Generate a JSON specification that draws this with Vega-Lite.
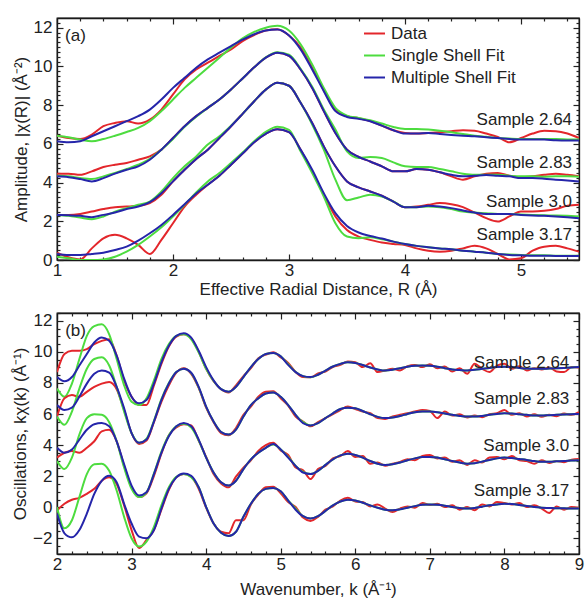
{
"$schema": "https://vega.github.io/schema/vega-lite/v6.json",
"background": "white",
"padding": {"left": 10, "top": 16, "right": 4, "bottom": 0},
"spacing": 13,
"config": {
 "font": "Liberation Sans",
 "view": {"stroke": "#1a1a1a", "strokeWidth": 1.3},
 "axis": {"labelFont": "Liberation Sans", "labelFontSize": 17, "labelColor": "#222", "titleFont": "Liberation Sans", "titleFontSize": 17, "titleFontWeight": "normal", "titleColor": "#222", "tickColor": "#222", "domainColor": "#1a1a1a", "domainWidth": 1.3, "tickWidth": 1.2, "grid": false, "labelOverlap": false, "labelFlush": false, "labelBound": false, "titlePadding": 3, "labelPadding": 8},
 "axisLeft": {"labelPadding": 11},
 "legend": {"labelFont": "Liberation Sans", "labelFontSize": 17, "labelColor": "#222"},
 "text": {"font": "Liberation Sans", "fontSize": 17, "fill": "#222"}
},
"datasets": {
"a": [
{"x":1.0,"s":"2.64","d":6.42,"g":6.42,"b":6.13},
{"x":1.1,"s":"2.64","d":6.30,"g":6.34,"b":6.08},
{"x":1.2,"s":"2.64","d":6.25,"g":6.22,"b":6.13},
{"x":1.3,"s":"2.64","d":6.48,"g":6.13,"b":6.39},
{"x":1.4,"s":"2.64","d":6.91,"g":6.25,"b":6.65},
{"x":1.5,"s":"2.64","d":7.08,"g":6.42,"b":6.91},
{"x":1.6,"s":"2.64","d":7.17,"g":6.61,"b":7.17},
{"x":1.7,"s":"2.64","d":7.05,"g":6.82,"b":7.43},
{"x":1.8,"s":"2.64","d":7.25,"g":7.17,"b":7.77},
{"x":1.9,"s":"2.64","d":7.77,"g":7.69,"b":8.29},
{"x":2.0,"s":"2.64","d":8.55,"g":8.29,"b":8.89},
{"x":2.1,"s":"2.64","d":9.33,"g":8.89,"b":9.41},
{"x":2.2,"s":"2.64","d":9.84,"g":9.41,"b":9.93},
{"x":2.3,"s":"2.64","d":10.19,"g":9.93,"b":10.36},
{"x":2.4,"s":"2.64","d":10.54,"g":10.45,"b":10.71},
{"x":2.5,"s":"2.64","d":10.88,"g":10.97,"b":11.05},
{"x":2.6,"s":"2.64","d":11.31,"g":11.45,"b":11.38},
{"x":2.7,"s":"2.64","d":11.62,"g":11.78,"b":11.66},
{"x":2.8,"s":"2.64","d":11.85,"g":12.00,"b":11.85},
{"x":2.9,"s":"2.64","d":11.92,"g":12.10,"b":11.90},
{"x":3.0,"s":"2.64","d":11.60,"g":11.85,"b":11.60},
{"x":3.1,"s":"2.64","d":10.97,"g":11.14,"b":10.88},
{"x":3.2,"s":"2.64","d":9.93,"g":10.10,"b":9.84},
{"x":3.3,"s":"2.64","d":8.77,"g":8.89,"b":8.72},
{"x":3.4,"s":"2.64","d":7.74,"g":7.86,"b":7.69},
{"x":3.5,"s":"2.64","d":7.43,"g":7.46,"b":7.39},
{"x":3.6,"s":"2.64","d":7.32,"g":7.34,"b":7.29},
{"x":3.7,"s":"2.64","d":7.18,"g":7.22,"b":7.17},
{"x":3.8,"s":"2.64","d":6.94,"g":7.05,"b":6.94},
{"x":3.9,"s":"2.64","d":6.70,"g":6.87,"b":6.70},
{"x":4.0,"s":"2.64","d":6.56,"g":6.77,"b":6.53},
{"x":4.1,"s":"2.64","d":6.53,"g":6.77,"b":6.53},
{"x":4.2,"s":"2.64","d":6.56,"g":6.74,"b":6.56},
{"x":4.3,"s":"2.64","d":6.60,"g":6.68,"b":6.51},
{"x":4.4,"s":"2.64","d":6.65,"g":6.60,"b":6.46},
{"x":4.5,"s":"2.64","d":6.70,"g":6.51,"b":6.42},
{"x":4.6,"s":"2.64","d":6.67,"g":6.42,"b":6.39},
{"x":4.7,"s":"2.64","d":6.53,"g":6.36,"b":6.34},
{"x":4.8,"s":"2.64","d":6.36,"g":6.30,"b":6.30},
{"x":4.9,"s":"2.64","d":6.08,"g":6.27,"b":6.25},
{"x":5.0,"s":"2.64","d":6.30,"g":6.25,"b":6.22},
{"x":5.1,"s":"2.64","d":6.53,"g":6.25,"b":6.22},
{"x":5.2,"s":"2.64","d":6.67,"g":6.25,"b":6.22},
{"x":5.3,"s":"2.64","d":6.65,"g":6.25,"b":6.18},
{"x":5.4,"s":"2.64","d":6.53,"g":6.23,"b":6.17},
{"x":5.5,"s":"2.64","d":6.30,"g":6.22,"b":6.17},
{"x":1.0,"s":"2.83","d":4.46,"g":4.35,"b":4.32},
{"x":1.1,"s":"2.83","d":4.46,"g":4.32,"b":4.28},
{"x":1.2,"s":"2.83","d":4.40,"g":4.23,"b":4.18},
{"x":1.3,"s":"2.83","d":4.58,"g":4.18,"b":4.06},
{"x":1.4,"s":"2.83","d":4.80,"g":4.32,"b":4.23},
{"x":1.5,"s":"2.83","d":4.92,"g":4.49,"b":4.46},
{"x":1.6,"s":"2.83","d":5.01,"g":4.70,"b":4.66},
{"x":1.7,"s":"2.83","d":5.18,"g":4.92,"b":4.84},
{"x":1.8,"s":"2.83","d":5.35,"g":5.22,"b":5.18},
{"x":1.9,"s":"2.83","d":5.70,"g":5.70,"b":5.70},
{"x":2.0,"s":"2.83","d":6.30,"g":6.25,"b":6.30},
{"x":2.1,"s":"2.83","d":6.91,"g":6.88,"b":6.91},
{"x":2.2,"s":"2.83","d":7.43,"g":7.40,"b":7.43},
{"x":2.3,"s":"2.83","d":7.86,"g":7.86,"b":7.86},
{"x":2.4,"s":"2.83","d":8.29,"g":8.29,"b":8.29},
{"x":2.5,"s":"2.83","d":8.81,"g":8.81,"b":8.81},
{"x":2.6,"s":"2.83","d":9.38,"g":9.38,"b":9.38},
{"x":2.7,"s":"2.83","d":9.95,"g":9.95,"b":9.95},
{"x":2.8,"s":"2.83","d":10.45,"g":10.47,"b":10.45},
{"x":2.9,"s":"2.83","d":10.70,"g":10.73,"b":10.70},
{"x":3.0,"s":"2.83","d":10.55,"g":10.60,"b":10.55},
{"x":3.1,"s":"2.83","d":9.84,"g":9.88,"b":9.84},
{"x":3.2,"s":"2.83","d":8.89,"g":8.95,"b":8.89},
{"x":3.3,"s":"2.83","d":7.69,"g":7.77,"b":7.69},
{"x":3.4,"s":"2.83","d":6.56,"g":6.74,"b":6.56},
{"x":3.5,"s":"2.83","d":5.70,"g":5.61,"b":5.70},
{"x":3.6,"s":"2.83","d":5.32,"g":5.27,"b":5.32},
{"x":3.7,"s":"2.83","d":5.09,"g":5.32,"b":5.09},
{"x":3.8,"s":"2.83","d":4.84,"g":5.27,"b":4.84},
{"x":3.9,"s":"2.83","d":4.58,"g":5.04,"b":4.58},
{"x":4.0,"s":"2.83","d":4.58,"g":4.84,"b":4.58},
{"x":4.1,"s":"2.83","d":4.70,"g":4.80,"b":4.70},
{"x":4.2,"s":"2.83","d":4.66,"g":4.80,"b":4.66},
{"x":4.3,"s":"2.83","d":4.53,"g":4.70,"b":4.53},
{"x":4.4,"s":"2.83","d":4.32,"g":4.58,"b":4.40},
{"x":4.5,"s":"2.83","d":4.15,"g":4.46,"b":4.32},
{"x":4.6,"s":"2.83","d":4.32,"g":4.40,"b":4.35},
{"x":4.7,"s":"2.83","d":4.46,"g":4.40,"b":4.39},
{"x":4.8,"s":"2.83","d":4.49,"g":4.40,"b":4.35},
{"x":4.9,"s":"2.83","d":4.35,"g":4.35,"b":4.32},
{"x":5.0,"s":"2.83","d":4.27,"g":4.32,"b":4.23},
{"x":5.1,"s":"2.83","d":4.32,"g":4.32,"b":4.23},
{"x":5.2,"s":"2.83","d":4.40,"g":4.30,"b":4.20},
{"x":5.3,"s":"2.83","d":4.46,"g":4.32,"b":4.15},
{"x":5.4,"s":"2.83","d":4.40,"g":4.32,"b":4.11},
{"x":5.5,"s":"2.83","d":4.32,"g":4.30,"b":4.06},
{"x":1.0,"s":"3.0","d":2.33,"g":2.33,"b":2.33},
{"x":1.1,"s":"3.0","d":2.33,"g":2.28,"b":2.31},
{"x":1.2,"s":"3.0","d":2.38,"g":2.19,"b":2.28},
{"x":1.3,"s":"3.0","d":2.50,"g":2.11,"b":2.21},
{"x":1.4,"s":"3.0","d":2.63,"g":2.25,"b":2.33},
{"x":1.5,"s":"3.0","d":2.73,"g":2.50,"b":2.45},
{"x":1.6,"s":"3.0","d":2.76,"g":2.68,"b":2.63},
{"x":1.7,"s":"3.0","d":2.80,"g":2.85,"b":2.76},
{"x":1.8,"s":"3.0","d":2.94,"g":3.02,"b":2.99},
{"x":1.9,"s":"3.0","d":3.37,"g":3.54,"b":3.45},
{"x":2.0,"s":"3.0","d":4.06,"g":4.23,"b":4.06},
{"x":2.1,"s":"3.0","d":4.66,"g":4.84,"b":4.66},
{"x":2.2,"s":"3.0","d":5.22,"g":5.35,"b":5.22},
{"x":2.3,"s":"3.0","d":5.70,"g":5.96,"b":5.70},
{"x":2.4,"s":"3.0","d":6.30,"g":6.39,"b":6.30},
{"x":2.5,"s":"3.0","d":6.91,"g":6.94,"b":6.91},
{"x":2.6,"s":"3.0","d":7.55,"g":7.55,"b":7.55},
{"x":2.7,"s":"3.0","d":8.20,"g":8.20,"b":8.20},
{"x":2.8,"s":"3.0","d":8.80,"g":8.80,"b":8.80},
{"x":2.9,"s":"3.0","d":9.15,"g":9.15,"b":9.15},
{"x":3.0,"s":"3.0","d":9.00,"g":9.00,"b":9.00},
{"x":3.1,"s":"3.0","d":8.12,"g":8.12,"b":8.12},
{"x":3.2,"s":"3.0","d":7.08,"g":7.00,"b":7.08},
{"x":3.3,"s":"3.0","d":5.87,"g":5.70,"b":5.87},
{"x":3.4,"s":"3.0","d":4.84,"g":4.15,"b":4.84},
{"x":3.5,"s":"3.0","d":4.06,"g":3.09,"b":4.06},
{"x":3.6,"s":"3.0","d":3.75,"g":3.23,"b":3.75},
{"x":3.7,"s":"3.0","d":3.54,"g":3.37,"b":3.54},
{"x":3.8,"s":"3.0","d":3.32,"g":3.28,"b":3.32},
{"x":3.9,"s":"3.0","d":3.02,"g":3.02,"b":3.02},
{"x":4.0,"s":"3.0","d":2.73,"g":2.73,"b":2.73},
{"x":4.1,"s":"3.0","d":2.76,"g":2.73,"b":2.73},
{"x":4.2,"s":"3.0","d":2.85,"g":2.76,"b":2.80},
{"x":4.3,"s":"3.0","d":2.94,"g":2.73,"b":2.76},
{"x":4.4,"s":"3.0","d":2.88,"g":2.63,"b":2.68},
{"x":4.5,"s":"3.0","d":2.73,"g":2.50,"b":2.56},
{"x":4.6,"s":"3.0","d":2.45,"g":2.45,"b":2.45},
{"x":4.7,"s":"3.0","d":2.16,"g":2.42,"b":2.38},
{"x":4.8,"s":"3.0","d":1.99,"g":2.38,"b":2.38},
{"x":4.9,"s":"3.0","d":2.25,"g":2.37,"b":2.37},
{"x":5.0,"s":"3.0","d":2.50,"g":2.35,"b":2.33},
{"x":5.1,"s":"3.0","d":2.50,"g":2.33,"b":2.30},
{"x":5.2,"s":"3.0","d":2.54,"g":2.31,"b":2.28},
{"x":5.3,"s":"3.0","d":2.63,"g":2.30,"b":2.25},
{"x":5.4,"s":"3.0","d":2.80,"g":2.28,"b":2.21},
{"x":5.5,"s":"3.0","d":2.85,"g":2.25,"b":2.16},
{"x":1.0,"s":"3.17","d":0.38,"g":0.17,"b":0.31},
{"x":1.1,"s":"3.17","d":0.14,"g":0.09,"b":0.26},
{"x":1.2,"s":"3.17","d":0.03,"g":0.0,"b":0.26},
{"x":1.3,"s":"3.17","d":0.60,"g":0.0,"b":0.31},
{"x":1.4,"s":"3.17","d":1.12,"g":0.03,"b":0.38},
{"x":1.5,"s":"3.17","d":1.30,"g":0.17,"b":0.52},
{"x":1.6,"s":"3.17","d":1.12,"g":0.43,"b":0.69},
{"x":1.7,"s":"3.17","d":0.78,"g":0.78,"b":1.00},
{"x":1.8,"s":"3.17","d":0.31,"g":1.21,"b":1.38},
{"x":1.9,"s":"3.17","d":1.04,"g":1.69,"b":1.81},
{"x":2.0,"s":"3.17","d":1.90,"g":2.25,"b":2.33},
{"x":2.1,"s":"3.17","d":2.76,"g":2.85,"b":2.88},
{"x":2.2,"s":"3.17","d":3.37,"g":3.49,"b":3.44},
{"x":2.3,"s":"3.17","d":3.89,"g":4.06,"b":3.89},
{"x":2.4,"s":"3.17","d":4.35,"g":4.49,"b":4.35},
{"x":2.5,"s":"3.17","d":4.92,"g":5.01,"b":4.92},
{"x":2.6,"s":"3.17","d":5.50,"g":5.55,"b":5.50},
{"x":2.7,"s":"3.17","d":6.08,"g":6.13,"b":6.08},
{"x":2.8,"s":"3.17","d":6.52,"g":6.62,"b":6.52},
{"x":2.9,"s":"3.17","d":6.75,"g":6.88,"b":6.75},
{"x":3.0,"s":"3.17","d":6.60,"g":6.72,"b":6.60},
{"x":3.1,"s":"3.17","d":5.70,"g":5.61,"b":5.70},
{"x":3.2,"s":"3.17","d":4.58,"g":4.49,"b":4.66},
{"x":3.3,"s":"3.17","d":3.37,"g":3.28,"b":3.45},
{"x":3.4,"s":"3.17","d":2.25,"g":1.90,"b":2.42},
{"x":3.5,"s":"3.17","d":1.55,"g":1.21,"b":1.76},
{"x":3.6,"s":"3.17","d":1.21,"g":1.12,"b":1.42},
{"x":3.7,"s":"3.17","d":1.04,"g":1.17,"b":1.24},
{"x":3.8,"s":"3.17","d":0.90,"g":1.07,"b":1.11},
{"x":3.9,"s":"3.17","d":0.83,"g":0.95,"b":0.95},
{"x":4.0,"s":"3.17","d":0.78,"g":0.83,"b":0.83},
{"x":4.1,"s":"3.17","d":0.60,"g":0.73,"b":0.73},
{"x":4.2,"s":"3.17","d":0.48,"g":0.66,"b":0.66},
{"x":4.3,"s":"3.17","d":0.43,"g":0.60,"b":0.60},
{"x":4.4,"s":"3.17","d":0.48,"g":0.55,"b":0.55},
{"x":4.5,"s":"3.17","d":0.60,"g":0.48,"b":0.48},
{"x":4.6,"s":"3.17","d":0.73,"g":0.43,"b":0.43},
{"x":4.7,"s":"3.17","d":0.60,"g":0.38,"b":0.38},
{"x":4.8,"s":"3.17","d":0.31,"g":0.31,"b":0.31},
{"x":4.9,"s":"3.17","d":0.03,"g":0.28,"b":0.26},
{"x":5.0,"s":"3.17","d":0.09,"g":0.26,"b":0.24},
{"x":5.1,"s":"3.17","d":0.48,"g":0.24,"b":0.22},
{"x":5.2,"s":"3.17","d":0.69,"g":0.24,"b":0.22},
{"x":5.3,"s":"3.17","d":0.73,"g":0.22,"b":0.21},
{"x":5.4,"s":"3.17","d":0.60,"g":0.22,"b":0.21},
{"x":5.5,"s":"3.17","d":0.43,"g":0.22,"b":0.21}
],
"b": [
{"x":2.0,"s":"2.64","d":8.70,"g":7.64,"b":8.38},
{"x":2.1,"s":"2.64","d":9.86,"g":7.11,"b":8.11},
{"x":2.2,"s":"2.64","d":10.07,"g":7.96,"b":8.38},
{"x":2.3,"s":"2.64","d":10.07,"g":9.54,"b":9.12},
{"x":2.4,"s":"2.64","d":10.18,"g":11.03,"b":9.86},
{"x":2.5,"s":"2.64","d":10.50,"g":11.66,"b":10.60},
{"x":2.6,"s":"2.64","d":10.71,"g":11.77,"b":10.92},
{"x":2.7,"s":"2.64","d":10.81,"g":11.13,"b":10.71},
{"x":2.8,"s":"2.64","d":9.76,"g":9.54,"b":9.76},
{"x":2.9,"s":"2.64","d":8.17,"g":7.85,"b":8.28},
{"x":3.0,"s":"2.64","d":7.11,"g":6.79,"b":7.11},
{"x":3.1,"s":"2.64","d":6.58,"g":6.58,"b":6.69},
{"x":3.2,"s":"2.64","d":6.58,"g":7.01,"b":6.90},
{"x":3.3,"s":"2.64","d":7.85,"g":8.17,"b":7.96},
{"x":3.4,"s":"2.64","d":9.23,"g":9.54,"b":9.33},
{"x":3.5,"s":"2.64","d":10.35,"g":10.50,"b":10.39},
{"x":3.6,"s":"2.64","d":10.98,"g":11.03,"b":11.03},
{"x":3.7,"s":"2.64","d":11.13,"g":11.13,"b":11.20},
{"x":3.8,"s":"2.64","d":10.86,"g":10.81,"b":10.92},
{"x":3.9,"s":"2.64","d":10.01,"g":9.97,"b":10.07},
{"x":4.0,"s":"2.64","d":8.91,"g":8.91,"b":9.02},
{"x":4.1,"s":"2.64","d":8.11,"g":8.13,"b":8.17},
{"x":4.2,"s":"2.64","d":7.60,"g":7.60,"b":7.60},
{"x":4.3,"s":"2.64","d":7.39,"g":7.43,"b":7.43},
{"x":4.4,"s":"2.64","d":7.85,"g":7.75,"b":7.75},
{"x":4.5,"s":"2.64","d":8.44,"g":8.38,"b":8.38},
{"x":4.6,"s":"2.64","d":8.95,"g":9.02,"b":9.02},
{"x":4.7,"s":"2.64","d":9.59,"g":9.54,"b":9.54},
{"x":4.8,"s":"2.64","d":9.82,"g":9.86,"b":9.86},
{"x":4.9,"s":"2.64","d":9.97,"g":9.93,"b":9.93},
{"x":5.0,"s":"2.64","d":9.65,"g":9.71,"b":9.71},
{"x":5.1,"s":"2.64","d":9.29,"g":9.20,"b":9.16},
{"x":5.2,"s":"2.64","d":8.70,"g":8.70,"b":8.70},
{"x":5.3,"s":"2.64","d":8.38,"g":8.44,"b":8.44},
{"x":5.4,"s":"2.64","d":8.36,"g":8.36,"b":8.38},
{"x":5.5,"s":"2.64","d":8.61,"g":8.53,"b":8.53},
{"x":5.6,"s":"2.64","d":8.74,"g":8.80,"b":8.80},
{"x":5.7,"s":"2.64","d":9.02,"g":9.06,"b":9.06},
{"x":5.8,"s":"2.64","d":9.16,"g":9.23,"b":9.23},
{"x":5.9,"s":"2.64","d":9.38,"g":9.33,"b":9.33},
{"x":6.0,"s":"2.64","d":9.33,"g":9.29,"b":9.29},
{"x":6.1,"s":"2.64","d":9.02,"g":9.16,"b":9.16},
{"x":6.2,"s":"2.64","d":9.27,"g":8.99,"b":8.99},
{"x":6.3,"s":"2.64","d":8.70,"g":8.87,"b":8.87},
{"x":6.4,"s":"2.64","d":8.80,"g":8.80,"b":8.80},
{"x":6.5,"s":"2.64","d":8.91,"g":8.85,"b":8.85},
{"x":6.6,"s":"2.64","d":8.80,"g":8.95,"b":8.95},
{"x":6.7,"s":"2.64","d":9.08,"g":9.04,"b":9.04},
{"x":6.8,"s":"2.64","d":9.16,"g":9.10,"b":9.10},
{"x":6.9,"s":"2.64","d":9.02,"g":9.12,"b":9.12},
{"x":7.0,"s":"2.64","d":9.21,"g":9.10,"b":9.10},
{"x":7.1,"s":"2.64","d":8.95,"g":9.04,"b":9.04},
{"x":7.2,"s":"2.64","d":9.06,"g":8.95,"b":8.95},
{"x":7.3,"s":"2.64","d":8.74,"g":8.87,"b":8.87},
{"x":7.4,"s":"2.64","d":8.95,"g":8.83,"b":8.83},
{"x":7.5,"s":"2.64","d":8.59,"g":8.80,"b":8.80},
{"x":7.6,"s":"2.64","d":9.23,"g":8.85,"b":8.85},
{"x":7.7,"s":"2.64","d":8.91,"g":8.91,"b":8.91},
{"x":7.8,"s":"2.64","d":8.70,"g":8.97,"b":8.97},
{"x":7.9,"s":"2.64","d":9.12,"g":9.02,"b":9.02},
{"x":8.0,"s":"2.64","d":9.23,"g":9.04,"b":9.04},
{"x":8.1,"s":"2.64","d":8.91,"g":9.02,"b":9.02},
{"x":8.2,"s":"2.64","d":9.08,"g":8.97,"b":8.97},
{"x":8.3,"s":"2.64","d":8.80,"g":8.93,"b":8.93},
{"x":8.4,"s":"2.64","d":8.95,"g":8.91,"b":8.91},
{"x":8.5,"s":"2.64","d":8.87,"g":8.91,"b":8.91},
{"x":8.6,"s":"2.64","d":8.99,"g":8.93,"b":8.93},
{"x":8.7,"s":"2.64","d":8.74,"g":8.95,"b":8.95},
{"x":8.8,"s":"2.64","d":8.70,"g":8.97,"b":8.97},
{"x":8.9,"s":"2.64","d":9.02,"g":8.99,"b":8.99},
{"x":9.0,"s":"2.64","d":8.99,"g":9.02,"b":9.02},
{"x":2.0,"s":"2.83","d":5.84,"g":5.84,"b":6.58},
{"x":2.1,"s":"2.83","d":7.01,"g":5.31,"b":6.26},
{"x":2.2,"s":"2.83","d":7.22,"g":6.16,"b":6.41},
{"x":2.3,"s":"2.83","d":7.11,"g":7.64,"b":7.11},
{"x":2.4,"s":"2.83","d":7.43,"g":8.91,"b":7.96},
{"x":2.5,"s":"2.83","d":7.75,"g":9.54,"b":8.59},
{"x":2.6,"s":"2.83","d":7.96,"g":9.65,"b":8.80},
{"x":2.7,"s":"2.83","d":8.06,"g":9.12,"b":8.66},
{"x":2.8,"s":"2.83","d":7.60,"g":7.75,"b":7.75},
{"x":2.9,"s":"2.83","d":6.26,"g":6.16,"b":6.37},
{"x":3.0,"s":"2.83","d":4.78,"g":4.78,"b":4.78},
{"x":3.1,"s":"2.83","d":4.08,"g":4.15,"b":4.15},
{"x":3.2,"s":"2.83","d":4.30,"g":4.42,"b":4.36},
{"x":3.3,"s":"2.83","d":5.48,"g":5.57,"b":5.52},
{"x":3.4,"s":"2.83","d":6.79,"g":6.96,"b":6.90},
{"x":3.5,"s":"2.83","d":7.85,"g":8.00,"b":7.96},
{"x":3.6,"s":"2.83","d":8.66,"g":8.70,"b":8.70},
{"x":3.7,"s":"2.83","d":8.95,"g":8.91,"b":8.91},
{"x":3.8,"s":"2.83","d":8.59,"g":8.63,"b":8.66},
{"x":3.9,"s":"2.83","d":7.68,"g":7.72,"b":7.75},
{"x":4.0,"s":"2.83","d":6.41,"g":6.46,"b":6.48},
{"x":4.1,"s":"2.83","d":5.48,"g":5.52,"b":5.52},
{"x":4.2,"s":"2.83","d":4.78,"g":4.85,"b":4.85},
{"x":4.3,"s":"2.83","d":4.63,"g":4.68,"b":4.68},
{"x":4.4,"s":"2.83","d":5.10,"g":5.00,"b":5.00},
{"x":4.5,"s":"2.83","d":5.95,"g":5.84,"b":5.84},
{"x":4.6,"s":"2.83","d":6.48,"g":6.58,"b":6.58},
{"x":4.7,"s":"2.83","d":7.11,"g":7.01,"b":7.01},
{"x":4.8,"s":"2.83","d":7.43,"g":7.32,"b":7.32},
{"x":4.9,"s":"2.83","d":7.47,"g":7.39,"b":7.39},
{"x":5.0,"s":"2.83","d":7.01,"g":7.11,"b":7.11},
{"x":5.1,"s":"2.83","d":6.54,"g":6.58,"b":6.58},
{"x":5.2,"s":"2.83","d":5.84,"g":5.95,"b":5.95},
{"x":5.3,"s":"2.83","d":5.52,"g":5.48,"b":5.42},
{"x":5.4,"s":"2.83","d":5.21,"g":5.27,"b":5.27},
{"x":5.5,"s":"2.83","d":5.48,"g":5.42,"b":5.42},
{"x":5.6,"s":"2.83","d":5.74,"g":5.74,"b":5.74},
{"x":5.7,"s":"2.83","d":5.99,"g":6.05,"b":6.05},
{"x":5.8,"s":"2.83","d":6.26,"g":6.33,"b":6.33},
{"x":5.9,"s":"2.83","d":6.48,"g":6.41,"b":6.41},
{"x":6.0,"s":"2.83","d":6.33,"g":6.37,"b":6.37},
{"x":6.1,"s":"2.83","d":6.16,"g":6.20,"b":6.20},
{"x":6.2,"s":"2.83","d":6.05,"g":5.99,"b":5.99},
{"x":6.3,"s":"2.83","d":5.74,"g":5.82,"b":5.82},
{"x":6.4,"s":"2.83","d":5.69,"g":5.74,"b":5.74},
{"x":6.5,"s":"2.83","d":5.84,"g":5.78,"b":5.78},
{"x":6.6,"s":"2.83","d":5.95,"g":5.88,"b":5.88},
{"x":6.7,"s":"2.83","d":6.05,"g":6.01,"b":6.01},
{"x":6.8,"s":"2.83","d":6.16,"g":6.12,"b":6.12},
{"x":6.9,"s":"2.83","d":6.26,"g":6.16,"b":6.16},
{"x":7.0,"s":"2.83","d":6.20,"g":6.16,"b":6.16},
{"x":7.1,"s":"2.83","d":5.74,"g":6.12,"b":6.12},
{"x":7.2,"s":"2.83","d":6.16,"g":6.03,"b":6.03},
{"x":7.3,"s":"2.83","d":5.90,"g":5.95,"b":5.95},
{"x":7.4,"s":"2.83","d":5.99,"g":5.88,"b":5.88},
{"x":7.5,"s":"2.83","d":5.78,"g":5.84,"b":5.84},
{"x":7.6,"s":"2.83","d":5.90,"g":5.84,"b":5.84},
{"x":7.7,"s":"2.83","d":5.80,"g":5.88,"b":5.88},
{"x":7.8,"s":"2.83","d":5.99,"g":5.95,"b":5.95},
{"x":7.9,"s":"2.83","d":6.05,"g":6.01,"b":6.01},
{"x":8.0,"s":"2.83","d":6.26,"g":6.05,"b":6.05},
{"x":8.1,"s":"2.83","d":5.95,"g":6.03,"b":6.03},
{"x":8.2,"s":"2.83","d":6.05,"g":5.99,"b":5.99},
{"x":8.3,"s":"2.83","d":5.84,"g":5.95,"b":5.95},
{"x":8.4,"s":"2.83","d":5.99,"g":5.90,"b":5.90},
{"x":8.5,"s":"2.83","d":5.82,"g":5.90,"b":5.90},
{"x":8.6,"s":"2.83","d":5.95,"g":5.93,"b":5.93},
{"x":8.7,"s":"2.83","d":5.86,"g":5.95,"b":5.95},
{"x":8.8,"s":"2.83","d":6.03,"g":5.97,"b":5.97},
{"x":8.9,"s":"2.83","d":5.95,"g":5.99,"b":5.99},
{"x":9.0,"s":"2.83","d":6.12,"g":6.01,"b":6.01},
{"x":2.0,"s":"3.0","d":3.20,"g":2.98,"b":3.83},
{"x":2.1,"s":"3.0","d":3.51,"g":2.46,"b":3.51},
{"x":2.2,"s":"3.0","d":3.62,"g":3.20,"b":3.72},
{"x":2.3,"s":"3.0","d":3.51,"g":4.68,"b":4.36},
{"x":2.4,"s":"3.0","d":3.83,"g":5.74,"b":4.99},
{"x":2.5,"s":"3.0","d":4.25,"g":5.99,"b":5.35},
{"x":2.6,"s":"3.0","d":4.89,"g":5.95,"b":5.42},
{"x":2.7,"s":"3.0","d":4.99,"g":5.48,"b":5.21},
{"x":2.8,"s":"3.0","d":4.25,"g":4.25,"b":4.25},
{"x":2.9,"s":"3.0","d":2.67,"g":2.56,"b":2.77},
{"x":3.0,"s":"3.0","d":1.29,"g":1.19,"b":1.40},
{"x":3.1,"s":"3.0","d":0.66,"g":0.66,"b":0.76},
{"x":3.2,"s":"3.0","d":0.91,"g":0.97,"b":0.97},
{"x":3.3,"s":"3.0","d":2.03,"g":2.18,"b":2.14},
{"x":3.4,"s":"3.0","d":3.45,"g":3.58,"b":3.51},
{"x":3.5,"s":"3.0","d":4.63,"g":4.63,"b":4.57},
{"x":3.6,"s":"3.0","d":5.14,"g":5.21,"b":5.21},
{"x":3.7,"s":"3.0","d":5.35,"g":5.38,"b":5.42},
{"x":3.8,"s":"3.0","d":5.27,"g":5.14,"b":5.21},
{"x":3.9,"s":"3.0","d":4.30,"g":4.30,"b":4.36},
{"x":4.0,"s":"3.0","d":3.24,"g":3.20,"b":3.20},
{"x":4.1,"s":"3.0","d":2.14,"g":2.24,"b":2.24},
{"x":4.2,"s":"3.0","d":1.54,"g":1.61,"b":1.61},
{"x":4.3,"s":"3.0","d":1.29,"g":1.40,"b":1.40},
{"x":4.4,"s":"3.0","d":1.97,"g":1.71,"b":1.71},
{"x":4.5,"s":"3.0","d":2.56,"g":2.46,"b":2.46},
{"x":4.6,"s":"3.0","d":3.03,"g":3.09,"b":3.09},
{"x":4.7,"s":"3.0","d":3.62,"g":3.51,"b":3.51},
{"x":4.8,"s":"3.0","d":4.00,"g":3.83,"b":3.83},
{"x":4.9,"s":"3.0","d":4.15,"g":4.04,"b":4.08},
{"x":5.0,"s":"3.0","d":3.66,"g":3.72,"b":3.72},
{"x":5.1,"s":"3.0","d":3.37,"g":3.24,"b":3.20},
{"x":5.2,"s":"3.0","d":2.56,"g":2.67,"b":2.67},
{"x":5.3,"s":"3.0","d":2.39,"g":2.28,"b":2.24},
{"x":5.4,"s":"3.0","d":1.82,"g":2.14,"b":2.14},
{"x":5.5,"s":"3.0","d":2.46,"g":2.35,"b":2.35},
{"x":5.6,"s":"3.0","d":2.67,"g":2.73,"b":2.73},
{"x":5.7,"s":"3.0","d":3.15,"g":3.09,"b":3.09},
{"x":5.8,"s":"3.0","d":3.30,"g":3.34,"b":3.34},
{"x":5.9,"s":"3.0","d":3.62,"g":3.45,"b":3.45},
{"x":6.0,"s":"3.0","d":3.24,"g":3.37,"b":3.37},
{"x":6.1,"s":"3.0","d":3.30,"g":3.20,"b":3.20},
{"x":6.2,"s":"3.0","d":2.81,"g":2.98,"b":2.98},
{"x":6.3,"s":"3.0","d":2.88,"g":2.81,"b":2.81},
{"x":6.4,"s":"3.0","d":2.67,"g":2.73,"b":2.73},
{"x":6.5,"s":"3.0","d":2.81,"g":2.77,"b":2.77},
{"x":6.6,"s":"3.0","d":2.92,"g":2.88,"b":2.88},
{"x":6.7,"s":"3.0","d":3.09,"g":3.03,"b":3.03},
{"x":6.8,"s":"3.0","d":3.03,"g":3.15,"b":3.15},
{"x":6.9,"s":"3.0","d":3.30,"g":3.24,"b":3.24},
{"x":7.0,"s":"3.0","d":3.37,"g":3.24,"b":3.24},
{"x":7.1,"s":"3.0","d":3.15,"g":3.20,"b":3.20},
{"x":7.2,"s":"3.0","d":3.20,"g":3.09,"b":3.09},
{"x":7.3,"s":"3.0","d":2.94,"g":2.98,"b":2.98},
{"x":7.4,"s":"3.0","d":3.03,"g":2.88,"b":2.88},
{"x":7.5,"s":"3.0","d":2.73,"g":2.81,"b":2.81},
{"x":7.6,"s":"3.0","d":3.03,"g":2.84,"b":2.84},
{"x":7.7,"s":"3.0","d":2.88,"g":2.94,"b":2.94},
{"x":7.8,"s":"3.0","d":3.20,"g":3.05,"b":3.05},
{"x":7.9,"s":"3.0","d":3.24,"g":3.15,"b":3.15},
{"x":8.0,"s":"3.0","d":3.09,"g":3.20,"b":3.20},
{"x":8.1,"s":"3.0","d":3.30,"g":3.17,"b":3.17},
{"x":8.2,"s":"3.0","d":3.03,"g":3.11,"b":3.11},
{"x":8.3,"s":"3.0","d":2.98,"g":3.05,"b":3.05},
{"x":8.4,"s":"3.0","d":2.81,"g":2.98,"b":2.98},
{"x":8.5,"s":"3.0","d":3.03,"g":2.94,"b":2.94},
{"x":8.6,"s":"3.0","d":2.86,"g":2.94,"b":2.94},
{"x":8.7,"s":"3.0","d":2.98,"g":2.96,"b":2.96},
{"x":8.8,"s":"3.0","d":2.90,"g":2.98,"b":2.98},
{"x":8.9,"s":"3.0","d":3.07,"g":3.01,"b":3.01},
{"x":9.0,"s":"3.0","d":3.11,"g":3.03,"b":3.03},
{"x":2.0,"s":"3.17","d":-0.19,"g":0.02,"b":-0.40},
{"x":2.1,"s":"3.17","d":0.23,"g":-1.35,"b":-1.67},
{"x":2.2,"s":"3.17","d":0.49,"g":-0.83,"b":-1.93},
{"x":2.3,"s":"3.17","d":0.61,"g":0.66,"b":-1.46},
{"x":2.4,"s":"3.17","d":0.87,"g":2.14,"b":-0.40},
{"x":2.5,"s":"3.17","d":1.19,"g":2.77,"b":0.87},
{"x":2.6,"s":"3.17","d":1.71,"g":2.81,"b":1.71},
{"x":2.7,"s":"3.17","d":1.93,"g":2.35,"b":2.03},
{"x":2.8,"s":"3.17","d":1.50,"g":1.08,"b":1.61},
{"x":2.9,"s":"3.17","d":0.13,"g":-0.61,"b":0.23},
{"x":3.0,"s":"3.17","d":-1.46,"g":-1.99,"b":-1.04},
{"x":3.1,"s":"3.17","d":-2.62,"g":-2.52,"b":-1.88},
{"x":3.2,"s":"3.17","d":-2.10,"g":-2.20,"b":-1.99},
{"x":3.3,"s":"3.17","d":-1.46,"g":-1.25,"b":-1.46},
{"x":3.4,"s":"3.17","d":-0.15,"g":0.13,"b":-0.08},
{"x":3.5,"s":"3.17","d":1.12,"g":1.29,"b":1.19},
{"x":3.6,"s":"3.17","d":1.93,"g":1.97,"b":1.93},
{"x":3.7,"s":"3.17","d":2.14,"g":2.14,"b":2.18},
{"x":3.8,"s":"3.17","d":1.97,"g":1.93,"b":2.03},
{"x":3.9,"s":"3.17","d":1.19,"g":1.29,"b":1.29},
{"x":4.0,"s":"3.17","d":-0.02,"g":0.02,"b":0.02},
{"x":4.1,"s":"3.17","d":-1.04,"g":-1.04,"b":-1.04},
{"x":4.2,"s":"3.17","d":-1.57,"g":-1.63,"b":-1.63},
{"x":4.3,"s":"3.17","d":-1.67,"g":-1.84,"b":-1.84},
{"x":4.4,"s":"3.17","d":-0.83,"g":-1.57,"b":-1.57},
{"x":4.5,"s":"3.17","d":-0.83,"g":-0.61,"b":-0.61},
{"x":4.6,"s":"3.17","d":0.19,"g":0.23,"b":0.23},
{"x":4.7,"s":"3.17","d":0.83,"g":0.87,"b":0.87},
{"x":4.8,"s":"3.17","d":1.29,"g":1.19,"b":1.19},
{"x":4.9,"s":"3.17","d":1.33,"g":1.25,"b":1.25},
{"x":5.0,"s":"3.17","d":0.91,"g":1.04,"b":1.04},
{"x":5.1,"s":"3.17","d":0.34,"g":0.44,"b":0.44},
{"x":5.2,"s":"3.17","d":0.02,"g":-0.08,"b":-0.15},
{"x":5.3,"s":"3.17","d":-0.66,"g":-0.57,"b":-0.57},
{"x":5.4,"s":"3.17","d":-0.87,"g":-0.72,"b":-0.72},
{"x":5.5,"s":"3.17","d":-0.61,"g":-0.57,"b":-0.57},
{"x":5.6,"s":"3.17","d":-0.15,"g":-0.23,"b":-0.23},
{"x":5.7,"s":"3.17","d":0.06,"g":0.13,"b":0.13},
{"x":5.8,"s":"3.17","d":0.44,"g":0.38,"b":0.38},
{"x":5.9,"s":"3.17","d":0.61,"g":0.49,"b":0.49},
{"x":6.0,"s":"3.17","d":0.38,"g":0.44,"b":0.44},
{"x":6.1,"s":"3.17","d":0.34,"g":0.30,"b":0.30},
{"x":6.2,"s":"3.17","d":0.06,"g":0.13,"b":0.13},
{"x":6.3,"s":"3.17","d":0.19,"g":-0.02,"b":-0.02},
{"x":6.4,"s":"3.17","d":-0.08,"g":-0.15,"b":-0.15},
{"x":6.5,"s":"3.17","d":-0.30,"g":-0.19,"b":-0.19},
{"x":6.6,"s":"3.17","d":-0.08,"g":-0.13,"b":-0.13},
{"x":6.7,"s":"3.17","d":0.06,"g":-0.02,"b":-0.02},
{"x":6.8,"s":"3.17","d":-0.02,"g":0.08,"b":0.08},
{"x":6.9,"s":"3.17","d":0.28,"g":0.17,"b":0.17},
{"x":7.0,"s":"3.17","d":0.15,"g":0.19,"b":0.19},
{"x":7.1,"s":"3.17","d":0.23,"g":0.17,"b":0.17},
{"x":7.2,"s":"3.17","d":0.02,"g":0.11,"b":0.11},
{"x":7.3,"s":"3.17","d":0.13,"g":0.02,"b":0.02},
{"x":7.4,"s":"3.17","d":-0.15,"g":-0.04,"b":-0.04},
{"x":7.5,"s":"3.17","d":0.02,"g":-0.08,"b":-0.08},
{"x":7.6,"s":"3.17","d":-0.19,"g":-0.04,"b":-0.04},
{"x":7.7,"s":"3.17","d":0.19,"g":0.04,"b":0.04},
{"x":7.8,"s":"3.17","d":0.06,"g":0.13,"b":0.13},
{"x":7.9,"s":"3.17","d":0.34,"g":0.19,"b":0.19},
{"x":8.0,"s":"3.17","d":0.28,"g":0.23,"b":0.23},
{"x":8.1,"s":"3.17","d":0.19,"g":0.21,"b":0.21},
{"x":8.2,"s":"3.17","d":0.28,"g":0.15,"b":0.15},
{"x":8.3,"s":"3.17","d":0.02,"g":0.08,"b":0.08},
{"x":8.4,"s":"3.17","d":0.13,"g":0.02,"b":0.02},
{"x":8.5,"s":"3.17","d":-0.08,"g":-0.02,"b":-0.02},
{"x":8.6,"s":"3.17","d":-0.36,"g":-0.04,"b":-0.04},
{"x":8.7,"s":"3.17","d":0.06,"g":-0.06,"b":-0.06},
{"x":8.8,"s":"3.17","d":-0.15,"g":-0.06,"b":-0.06},
{"x":8.9,"s":"3.17","d":0.02,"g":-0.08,"b":-0.08},
{"x":9.0,"s":"3.17","d":-0.02,"g":-0.08,"b":-0.08}
],
"la": [
{"x":5.44,"y":7.24,"t":"Sample 2.64"},
{"x":5.44,"y":5.02,"t":"Sample 2.83"},
{"x":5.44,"y":3.0,"t":"Sample 3.0"},
{"x":5.44,"y":1.29,"t":"Sample 3.17"}
],
"lb": [
{"x":8.87,"y":9.27,"t":"Sample 2.64"},
{"x":8.87,"y":7.0,"t":"Sample 2.83"},
{"x":8.87,"y":3.94,"t":"Sample 3.0"},
{"x":8.87,"y":1.08,"t":"Sample 3.17"}
]
},
"vconcat": [
{
 "width": 522, "height": 242,
 "layer": [
  {
   "data": {"name": "a"},
   "transform": [{"fold": ["d", "g", "b"], "as": ["series", "value"]}],
   "mark": {"type": "line", "strokeWidth": 2, "interpolate": "monotone", "clip": true},
   "encoding": {
    "x": {"field": "x", "type": "quantitative", "scale": {"domain": [1, 5.5], "nice": false, "zero": false},
     "axis": {"orient": "bottom", "title": "Effective Radial Distance, R (Å)", "values": [1, 2, 3, 4, 5], "format": "d", "tickSize": -6}},
    "y": {"field": "value", "type": "quantitative", "scale": {"domain": [0, 12.5], "nice": false, "zero": false},
     "axis": {"orient": "left", "title": "Amplitude, |χ(R)| (Å⁻²)", "values": [0, 2, 4, 6, 8, 10, 12], "format": "d", "tickSize": -6, "labelPadding": 11}},
    "color": {"field": "series", "type": "nominal", "scale": {"domain": ["d", "g", "b"], "range": ["#e3262b", "#4ddc3f", "#2525aa"]},
     "legend": {"orient": "none", "legendX": 306, "legendY": 4, "title": null, "direction": "vertical", "symbolType": "stroke", "symbolSize": 440, "symbolStrokeWidth": 2, "labelFontSize": 17, "rowPadding": 2, "labelOffset": 5, "labelExpr": "datum.label == 'd' ? 'Data' : (datum.label == 'g' ? 'Single Shell Fit' : 'Multiple Shell Fit')"}},
    "detail": {"field": "s", "type": "nominal"}
   }
  },
  {
   "data": {"name": "la"},
   "mark": {"type": "text", "align": "right", "baseline": "middle", "fontSize": 17},
   "encoding": {
    "x": {"field": "x", "type": "quantitative", "scale": {"domain": [1, 5.5], "nice": false, "zero": false},
     "axis": {"orient": "top", "title": null, "labels": false, "values": [1, 2, 3, 4, 5], "tickSize": -6}},
    "y": {"field": "y", "type": "quantitative", "scale": {"domain": [0, 12.5], "nice": false, "zero": false},
     "axis": {"orient": "right", "title": null, "labels": false, "values": [0, 2, 4, 6, 8, 10, 12], "tickSize": -6}},
    "text": {"field": "t", "type": "nominal"}
   }
  },
  {
   "data": {"values": [{"x": 1.07, "y": 11.56, "t": "(a)"}]},
   "mark": {"type": "text", "align": "left", "baseline": "middle", "fontSize": 17},
   "encoding": {
    "x": {"field": "x", "type": "quantitative", "scale": {"domain": [1, 5.5], "nice": false, "zero": false},
     "axis": {"orient": "bottom", "title": null, "labels": false, "domain": false, "values": [1.2,1.4,1.6,1.8,2.2,2.4,2.6,2.8,3.2,3.4,3.6,3.8,4.2,4.4,4.6,4.8,5.2,5.4], "tickSize": -3}},
    "y": {"field": "y", "type": "quantitative", "scale": {"domain": [0, 12.5], "nice": false, "zero": false},
     "axis": {"orient": "left", "title": null, "labels": false, "domain": false, "values": [0.25,0.5,0.75,1,1.25,1.5,1.75,2.25,2.5,2.75,3,3.25,3.5,3.75,4.25,4.5,4.75,5,5.25,5.5,5.75,6.25,6.5,6.75,7,7.25,7.5,7.75,8.25,8.5,8.75,9,9.25,9.5,9.75,10.25,10.5,10.75,11,11.25,11.5,11.75,12.25], "tickSize": -3}},
    "text": {"field": "t", "type": "nominal"}
   }
  },
  {
   "data": {"name": "la"},
   "mark": {"type": "text", "opacity": 0},
   "encoding": {
    "x": {"field": "x", "type": "quantitative", "scale": {"domain": [1, 5.5], "nice": false, "zero": false},
     "axis": {"orient": "top", "title": null, "labels": false, "domain": false, "values": [1.2,1.4,1.6,1.8,2.2,2.4,2.6,2.8,3.2,3.4,3.6,3.8,4.2,4.4,4.6,4.8,5.2,5.4], "tickSize": -3}},
    "y": {"field": "y", "type": "quantitative", "scale": {"domain": [0, 12.5], "nice": false, "zero": false},
     "axis": {"orient": "right", "title": null, "labels": false, "domain": false, "values": [0.25,0.5,0.75,1,1.25,1.5,1.75,2.25,2.5,2.75,3,3.25,3.5,3.75,4.25,4.5,4.75,5,5.25,5.5,5.75,6.25,6.5,6.75,7,7.25,7.5,7.75,8.25,8.5,8.75,9,9.25,9.5,9.75,10.25,10.5,10.75,11,11.25,11.5,11.75,12.25], "tickSize": -3}},
    "text": {"field": "t", "type": "nominal"}
   }
  }
 ],
 "resolve": {"axis": {"x": "independent", "y": "independent"}}
},
{
 "width": 522, "height": 241,
 "layer": [
  {
   "data": {"name": "b"},
   "transform": [{"fold": ["d", "g", "b"], "as": ["series", "value"]}],
   "mark": {"type": "line", "strokeWidth": 2, "interpolate": "monotone", "clip": true},
   "encoding": {
    "x": {"field": "x", "type": "quantitative", "scale": {"domain": [2, 9], "nice": false, "zero": false},
     "axis": {"orient": "bottom", "title": "Wavenumber, k (Å⁻¹)", "titlePadding": 9, "values": [2, 3, 4, 5, 6, 7, 8, 9], "format": "d", "tickSize": -6}},
    "y": {"field": "value", "type": "quantitative", "scale": {"domain": [-3, 12.5], "nice": false, "zero": false},
     "axis": {"orient": "left", "title": "Oscillations, kχ(k) (Å⁻¹)", "values": [-2, 0, 2, 4, 6, 8, 10, 12], "format": "d", "tickSize": -6, "labelPadding": 11}},
    "color": {"field": "series", "type": "nominal", "scale": {"domain": ["d", "g", "b"], "range": ["#e3262b", "#4ddc3f", "#2525aa"]}, "legend": null},
    "detail": {"field": "s", "type": "nominal"}
   }
  },
  {
   "data": {"name": "lb"},
   "mark": {"type": "text", "align": "right", "baseline": "middle", "fontSize": 17},
   "encoding": {
    "x": {"field": "x", "type": "quantitative", "scale": {"domain": [2, 9], "nice": false, "zero": false},
     "axis": {"orient": "top", "title": null, "labels": false, "values": [2, 3, 4, 5, 6, 7, 8, 9], "tickSize": -6}},
    "y": {"field": "y", "type": "quantitative", "scale": {"domain": [-3, 12.5], "nice": false, "zero": false},
     "axis": {"orient": "right", "title": null, "labels": false, "values": [-2, 0, 2, 4, 6, 8, 10, 12], "tickSize": -6}},
    "text": {"field": "t", "type": "nominal"}
   }
  },
  {
   "data": {"values": [{"x": 2.11, "y": 11.33, "t": "(b)"}]},
   "mark": {"type": "text", "align": "left", "baseline": "middle", "fontSize": 17},
   "encoding": {
    "x": {"field": "x", "type": "quantitative", "scale": {"domain": [2, 9], "nice": false, "zero": false},
     "axis": {"orient": "bottom", "title": null, "labels": false, "domain": false, "values": [2.2,2.4,2.6,2.8,3.2,3.4,3.6,3.8,4.2,4.4,4.6,4.8,5.2,5.4,5.6,5.8,6.2,6.4,6.6,6.8,7.2,7.4,7.6,7.8,8.2,8.4,8.6,8.8], "tickSize": -3}},
    "y": {"field": "y", "type": "quantitative", "scale": {"domain": [-3, 12.5], "nice": false, "zero": false},
     "axis": {"orient": "left", "title": null, "labels": false, "domain": false, "values": [-2.5,-1.5,-1,-0.5,0.5,1,1.5,2.5,3,3.5,4.5,5,5.5,6.5,7,7.5,8.5,9,9.5,10.5,11,11.5,12.5], "tickSize": -3}},
    "text": {"field": "t", "type": "nominal"}
   }
  },
  {
   "data": {"name": "lb"},
   "mark": {"type": "text", "opacity": 0},
   "encoding": {
    "x": {"field": "x", "type": "quantitative", "scale": {"domain": [2, 9], "nice": false, "zero": false},
     "axis": {"orient": "top", "title": null, "labels": false, "domain": false, "values": [2.2,2.4,2.6,2.8,3.2,3.4,3.6,3.8,4.2,4.4,4.6,4.8,5.2,5.4,5.6,5.8,6.2,6.4,6.6,6.8,7.2,7.4,7.6,7.8,8.2,8.4,8.6,8.8], "tickSize": -3}},
    "y": {"field": "y", "type": "quantitative", "scale": {"domain": [-3, 12.5], "nice": false, "zero": false},
     "axis": {"orient": "right", "title": null, "labels": false, "domain": false, "values": [-2.5,-1.5,-1,-0.5,0.5,1,1.5,2.5,3,3.5,4.5,5,5.5,6.5,7,7.5,8.5,9,9.5,10.5,11,11.5,12.5], "tickSize": -3}},
    "text": {"field": "t", "type": "nominal"}
   }
  }
 ],
 "resolve": {"axis": {"x": "independent", "y": "independent"}}
}
]
}
